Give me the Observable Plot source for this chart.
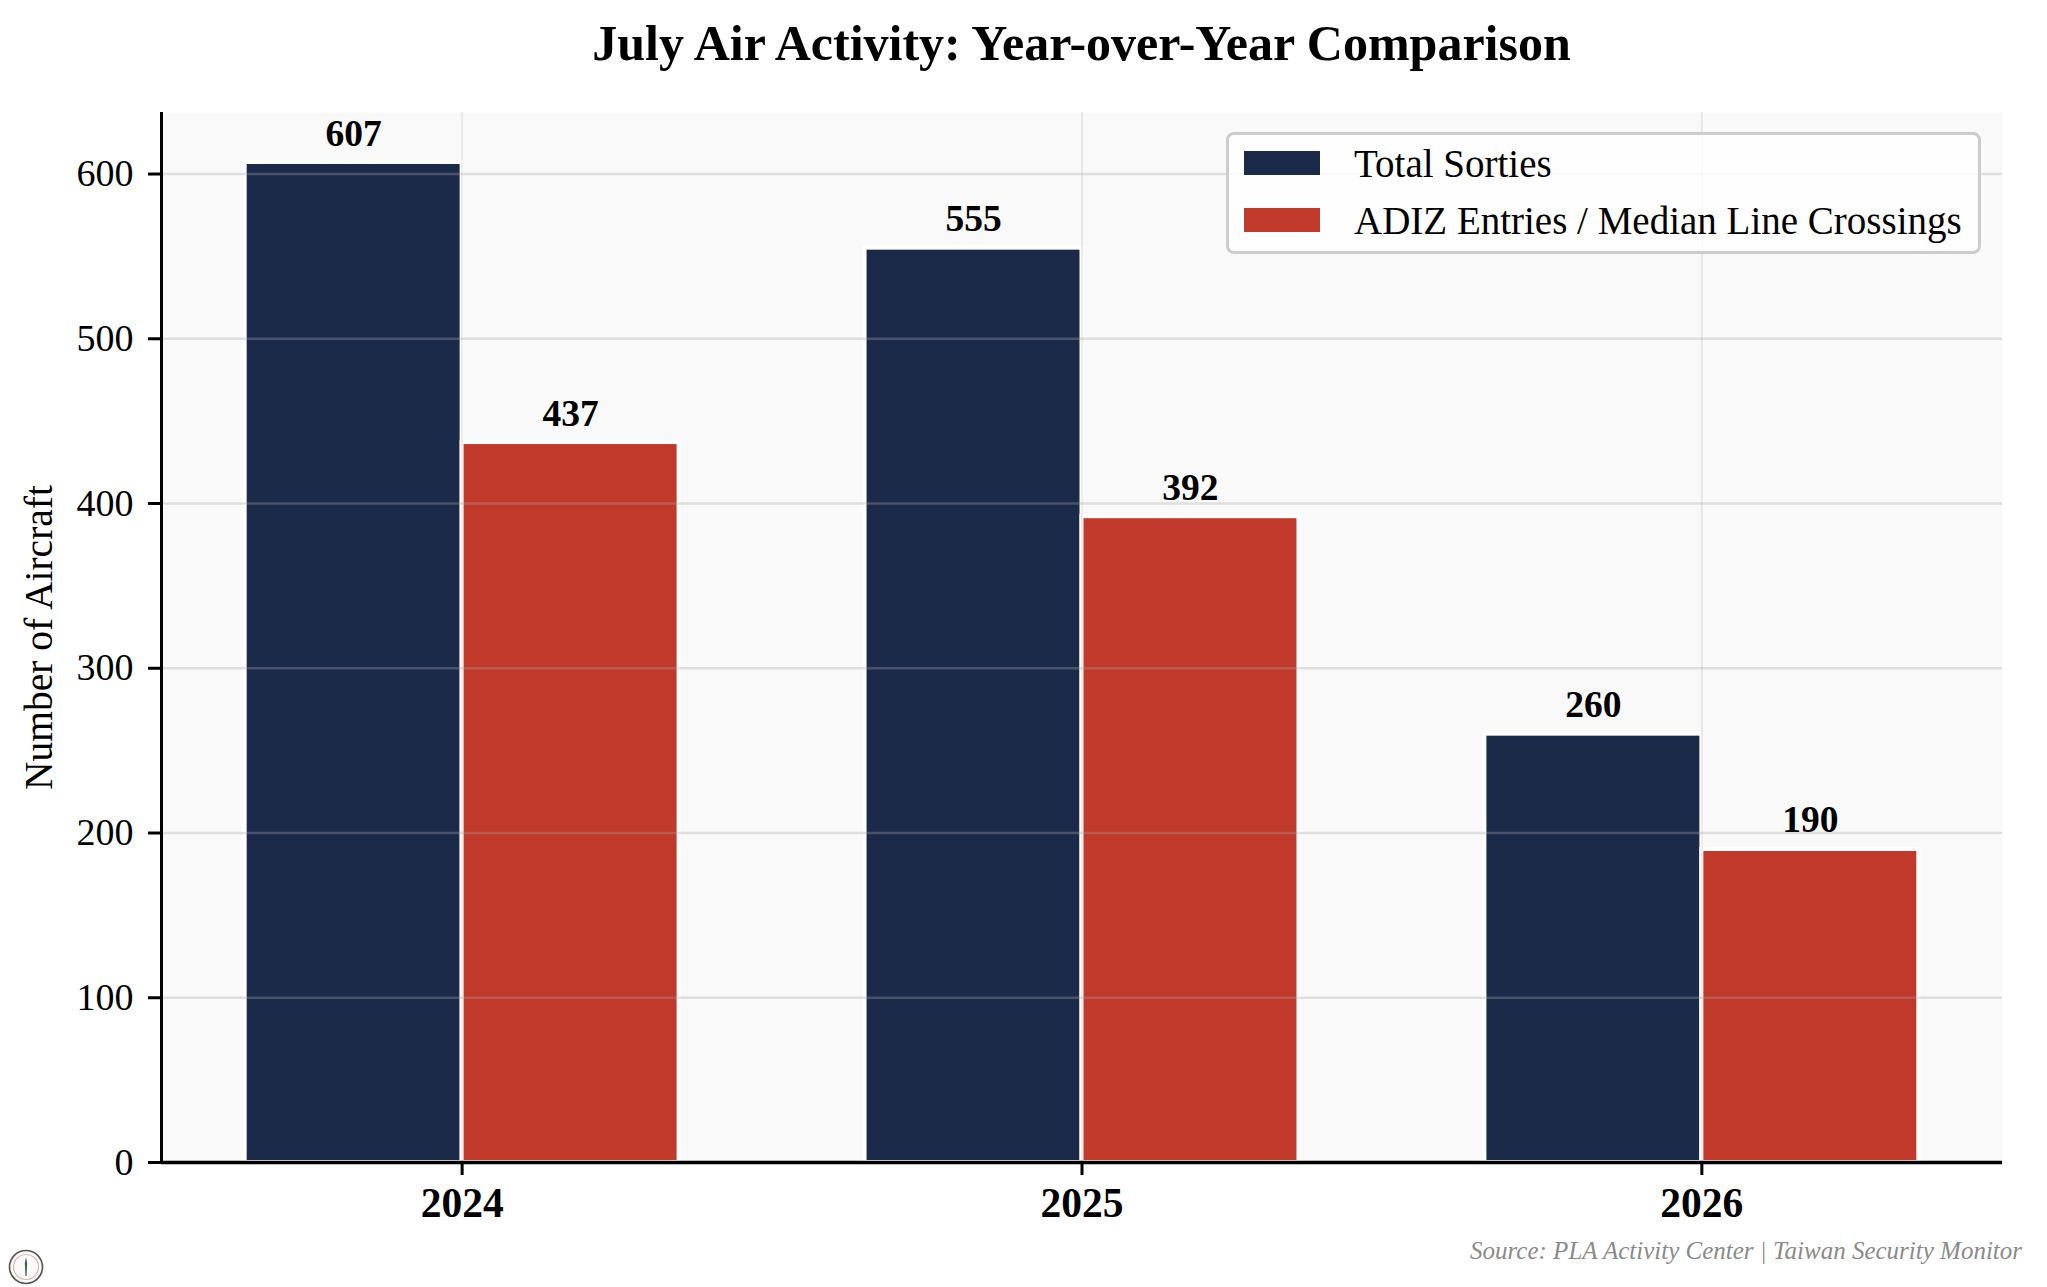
<!DOCTYPE html>
<html>
<head>
<meta charset="utf-8">
<script src="https://cdn.jsdelivr.net/npm/d3@7"></script>
<script src="https://cdn.jsdelivr.net/npm/@observablehq/plot@0.6"></script>
<style>
  html, body { margin: 0; padding: 0; background: #ffffff; }
  #wrap { position: relative; width: 2047px; height: 1287px; font-family: "Liberation Serif", "Times New Roman", serif; overflow: hidden; }
  #title { position: absolute; top: 0; left: 161px; width: 1841px; height: 86px; line-height: 86px; text-align: center; font-size: 50px; font-weight: bold; color: #000; }
  #chart { position: absolute; top: 80px; left: 0; }
  #legend { position: absolute; left: 1226px; top: 132px; width: 755px; height: 122px; box-sizing: border-box; border: 3px solid #cccccc; border-radius: 8px; background: rgba(255,255,255,0.8); }
  .lg-row { position: absolute; left: 15px; height: 40px; display: flex; align-items: center; font-size: 39px; color: #000; white-space: nowrap; }
  .lg-sw { width: 76px; height: 24px; margin-right: 34px; flex: none; }
  #source { position: absolute; right: 25px; top: 1236px; font-size: 25px; line-height: 29px; font-style: italic; color: #8a8a8a; white-space: nowrap; }
  #logo { position: absolute; left: 8px; top: 1249px; }
  #chart svg text { font-family: "Liberation Serif", "Times New Roman", serif; }
  #chart g[aria-label="x-axis tick label"] text { font-weight: bold; }
</style>
</head>
<body>
<div id="wrap">
  <div id="title">July Air Activity: Year-over-Year Comparison</div>
  <div id="chart"></div>
  <div id="legend"></div>
  <div id="source">Source: PLA Activity Center | Taiwan Security Monitor</div>
  <svg id="logo" width="36" height="36" viewBox="0 0 36 36">
    <circle cx="18" cy="18" r="16.5" fill="#fbfaf8" stroke="#555" stroke-width="1.6"/>
    <circle cx="18" cy="18" r="12.5" fill="none" stroke="#d8b8b0" stroke-width="1.2"/>
    <path d="M18 8 L19.2 14 L18.6 27 L17.4 27 L16.8 14 Z" fill="#3d6b55"/>
  </svg>
</div>
<script>
// ---- data ----
const years = ["2024", "2025", "2026"];
const seriesNames = ["Total Sorties", "ADIZ Entries / Median Line Crossings"];
const seriesColors = ["#1c2a4a", "#c0392b"];
const totalSorties = [607, 555, 260];
const adizEntries = [437, 392, 190];
const yTicks = [0, 100, 200, 300, 400, 500, 600];
const yLabel = "Number of Aircraft";

// ---- build table ----
const barWidth = 0.35;
const seriesValues = [totalSorties, adizEntries];
const rows = [];
seriesValues.forEach((vals, s) => {
  vals.forEach((v, i) => {
    const offset = s === 0 ? -barWidth : 0;
    rows.push({
      year: years[i],
      series: seriesNames[s],
      x1: i + offset,
      x2: i + offset + barWidth,
      xc: i + offset + barWidth / 2,
      value: v
    });
  });
});

const n = years.length;
const pad = 0.05 * ((n - 1) + 2 * barWidth);
const xDomain = [-barWidth - pad, (n - 1) + barWidth + pad];
const yMax = d3.max(rows, d => d.value) * 1.05;

const plot = Plot.plot({
  width: 2047,
  height: 1160,
  marginLeft: 161,
  marginRight: 45,
  marginTop: 32,
  marginBottom: 78,
  style: { background: "transparent", fontFamily: "Liberation Serif, Times New Roman, serif" },
  x: { type: "linear", domain: xDomain, axis: null },
  y: { domain: [0, yMax], axis: null },
  color: { domain: seriesNames, range: seriesColors },
  marks: [
    Plot.frame({ fill: "#f9f9f9", stroke: null }),
    Plot.rectY(rows, {
      x1: "x1", x2: "x2", y1: 0, y2: "value",
      fill: "series", stroke: "white", strokeWidth: 4
    }),
    Plot.gridY({ ticks: yTicks, stroke: "#a8a8a8", strokeOpacity: 0.32, strokeWidth: 2.5 }),
    Plot.gridX({ ticks: d3.range(n), stroke: "#a8a8a8", strokeOpacity: 0.22, strokeWidth: 2 }),
    Plot.text(rows, {
      x: "xc", y: "value", text: d => String(d.value),
      dy: -17, lineAnchor: "bottom", textAnchor: "middle",
      fontSize: 37.5, fontWeight: "bold", fill: "#000"
    }),
    Plot.axisY({
      ticks: yTicks, tickSize: 13, tickPadding: 15, fontSize: 38,
      stroke: "#000", strokeWidth: 3, label: null, color: "#000"
    }),
    Plot.axisX({
      ticks: d3.range(n), tickFormat: i => years[i], tickSize: 13, tickPadding: 12,
      fontSize: 41.5, fontWeight: "bold", stroke: "#000", strokeWidth: 3, label: null, color: "#000"
    }),
    Plot.ruleX([xDomain[0]], { stroke: "#000", strokeWidth: 3 }),
    Plot.ruleY([0], { stroke: "#000", strokeWidth: 3.5 }),
    Plot.text([yLabel], {
      frameAnchor: "left", rotate: -90, dx: -122, textAnchor: "middle",
      lineAnchor: "middle", fontSize: 39.5, fill: "#000"
    })
  ]
});
document.getElementById("chart").appendChild(plot);

// ---- legend ----
const legend = document.getElementById("legend");
seriesNames.forEach((name, s) => {
  const row = document.createElement("div");
  row.className = "lg-row";
  row.style.top = (8 + s * 57) + "px";
  const sw = document.createElement("div");
  sw.className = "lg-sw";
  sw.style.background = seriesColors[s];
  const label = document.createElement("span");
  label.textContent = name;
  row.appendChild(sw);
  row.appendChild(label);
  legend.appendChild(row);
});
</script>
</body>
</html>
